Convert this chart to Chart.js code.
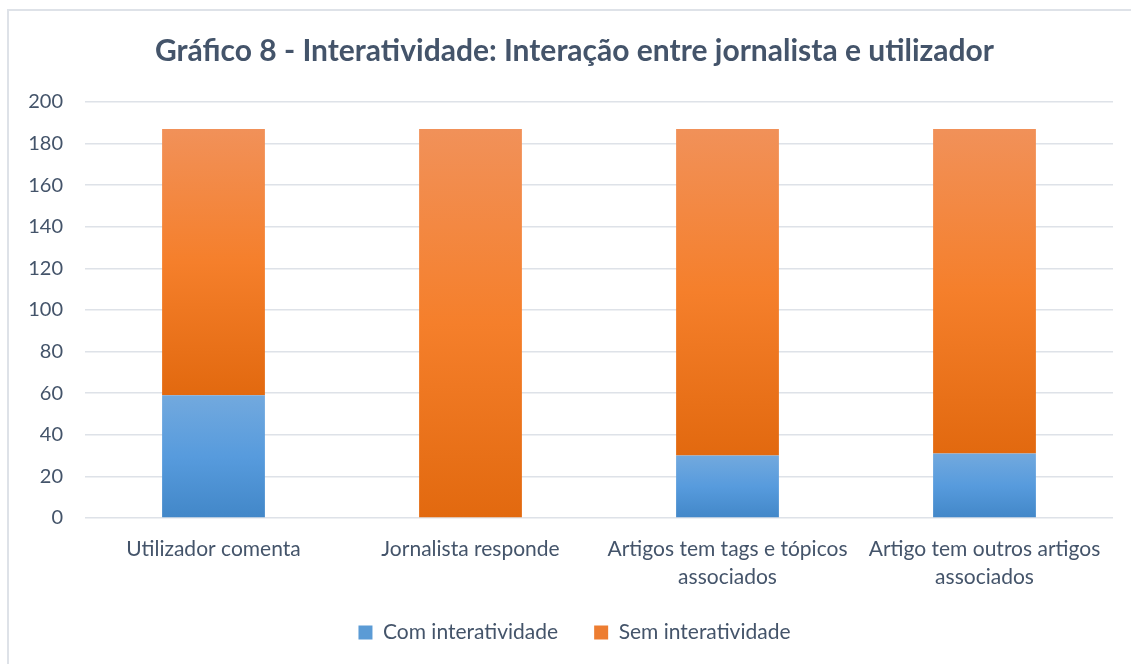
<!DOCTYPE html>
<html>
<head>
<meta charset="utf-8">
<script src="https://cdn.jsdelivr.net/npm/chart.js@4/dist/chart.umd.min.js"></script>
<style>
  html, body { margin: 0; padding: 0; background: #fff; overflow: hidden; }
  #frame { position: absolute; left: 7px; top: 9px; width: 1200px; height: 700px; border: 2px solid #DEE2E8; box-sizing: border-box; }
  #wrap { position: absolute; left: 0; top: 0; width: 1131px; height: 664px; }
</style>
</head>
<body>
<div id="frame"></div>
<div id="wrap"><canvas id="chart" width="1131" height="664"></canvas></div>
<script>
// chart values
const categories = [
  "Utilizador comenta",
  "Jornalista responde",
  ["Artigos tem tags e tópicos", "associados"],
  ["Artigo tem outros artigos", "associados"],
];
const comInteratividade = [59, 0, 30, 31];
const semInteratividade = [128, 187, 157, 156];
const yTicks = [0, 20, 40, 60, 80, 100, 120, 140, 160, 180, 200];

const textColor = "#44546A";
const gridColor = "#DEE2E8";

// office style gradients, light at the top, darker at the bottom
const blueStops = ["#72A9DE", "#579BDD", "#4287C8"];
const orangeStops = ["#F19159", "#F57F2B", "#E2690F"];

function segmentGradient(ctx, stops, fallback) {
  const chart = ctx.chart;
  const y = chart.scales.y;
  if (!chart.chartArea || !y || ctx.dataIndex === undefined) return fallback;
  const all = chart.data.datasets;
  let base = 0;
  for (let i = 0; i < ctx.datasetIndex; i++) base += all[i].data[ctx.dataIndex];
  const top = base + all[ctx.datasetIndex].data[ctx.dataIndex];
  const y0 = y.getPixelForValue(top);
  const y1 = y.getPixelForValue(base);
  if (!isFinite(y0) || !isFinite(y1) || y0 === y1) return fallback;
  const g = chart.ctx.createLinearGradient(0, y0, 0, y1);
  g.addColorStop(0, stops[0]);
  g.addColorStop(0.5, stops[1]);
  g.addColorStop(1, stops[2]);
  return g;
}

// title and legend sit a bit right of the canvas centre in the original
const shiftBoxes = {
  id: "shiftBoxes",
  afterLayout(chart) {
    [chart.titleBlock, chart.legend].forEach((b) => {
      if (!b) return;
      b.left += 13;
      b.right += 13;
    });
  },
};

new Chart(document.getElementById("chart"), {
  type: "bar",
  data: {
    labels: categories,
    datasets: [
      {
        label: "Com interatividade",
        data: comInteratividade,
        backgroundColor: (c) => segmentGradient(c, blueStops, "#5B9BD5"),
        borderWidth: 0,
        categoryPercentage: 1,
        barPercentage: 0.4,
      },
      {
        label: "Sem interatividade",
        data: semInteratividade,
        backgroundColor: (c) => segmentGradient(c, orangeStops, "#ED7D31"),
        borderWidth: 0,
        categoryPercentage: 1,
        barPercentage: 0.4,
      },
    ],
  },
  options: {
    responsive: false,
    animation: false,
    layout: { padding: { left: 10, right: 18, top: 24, bottom: 11 } },
    plugins: {
      title: {
        display: true,
        text: "Gráfico 8 - Interatividade: Interação entre jornalista e utilizador",
        color: textColor,
        font: { family: "Lato", size: 30, weight: "bold", lineHeight: 1.2 },
        padding: { top: 9, bottom: 33 },
      },
      legend: {
        position: "bottom",
        labels: {
          color: textColor,
          font: { family: "Lato", size: 21 },
          boxWidth: 14,
          boxHeight: 14,
          padding: 36,
          generateLabels: (chart) =>
            chart.data.datasets.map((ds, i) => ({
              text: ds.label,
              fillStyle: i === 0 ? "#5B9BD5" : "#ED7D31",
              strokeStyle: "rgba(0,0,0,0)",
              lineWidth: 0,
              fontColor: textColor,
              datasetIndex: i,
            })),
        },
      },
      tooltip: { enabled: false },
    },
    scales: {
      x: {
        stacked: true,
        grid: { display: false },
        border: { display: false },
        afterFit: (scale) => {
          scale.height = 68;
        },
        ticks: {
          color: textColor,
          font: { family: "Lato", size: 21, lineHeight: 1.3 },
          maxRotation: 0,
          autoSkip: false,
          padding: 10,
        },
      },
      y: {
        stacked: true,
        min: 0,
        max: 200,
        afterBuildTicks: (scale) => {
          scale.ticks = yTicks.map((v) => ({ value: v }));
        },
        afterFit: (scale) => {
          scale.width = 75;
        },
        grid: { color: gridColor, lineWidth: 1.5, drawTicks: false },
        border: { display: false },
        ticks: {
          color: textColor,
          font: { family: "Lato", size: 20 },
          padding: 22,
        },
      },
    },
  },
  plugins: [shiftBoxes],
});
</script>
</body>
</html>
